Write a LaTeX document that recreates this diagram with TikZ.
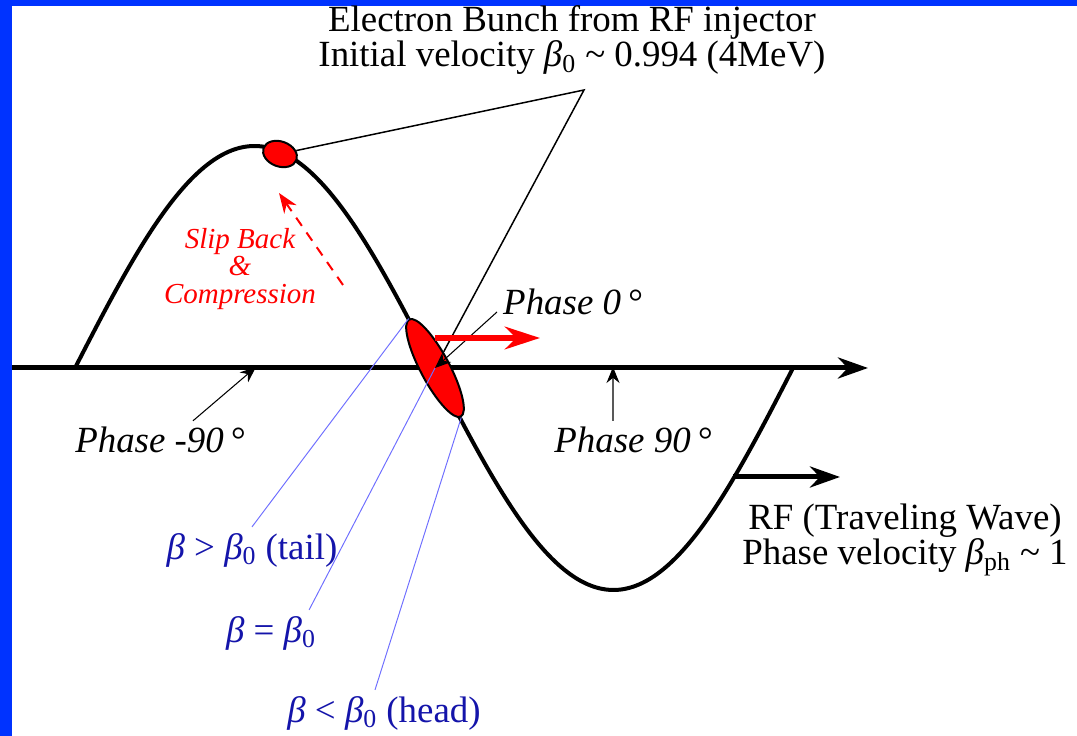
\documentclass[tikz,border=0pt]{standalone}
\usepackage{fontspec}
\setmainfont{Liberation Serif}
\usetikzlibrary{arrows.meta,shapes.geometric}
\definecolor{slideblue}{RGB}{0,51,255}
\definecolor{labelblue}{RGB}{20,20,170}
\definecolor{leaderblue}{RGB}{110,110,255}

\begin{document}
\begin{tikzpicture}[
    x=0.02cm, y=0.02cm,
    font=\fontsize{21}{20}\selectfont,
    wave/.style={line width=0.08cm},
    axisline/.style={line width=0.1cm, -{Stealth[length=0.6cm, width=0.42cm]}},
    pointer/.style={line width=0.6pt, -{Stealth[length=0.32cm, width=0.26cm]}},
    leader/.style={line width=0.85pt},
    blueleader/.style={leaderblue, line width=0.55pt},
    bunchshape/.style={ellipse, draw, fill=red, line width=0.04cm, inner sep=0pt},
    phaselabel/.style={font=\fontsize{21}{20}\selectfont\itshape},
    betalabel/.style={text=labelblue}
]
\useasboundingbox (0,0) rectangle (1077,736);

% === slide frame ===
\fill[slideblue] (0,0) rectangle (12,736);
\fill[slideblue] (0,730) rectangle (1077,736);

% === phase axis and RF wave ===
\draw[axisline] (12,368) -- (868,368);
\draw[wave, domain=0:360, samples=120, smooth]
    plot ({75+\x/360*718}, {368+222*sin(\x)});

% === electron bunches ===
\node[bunchshape, minimum width=0.7cm, minimum height=0.5cm, rotate=-20] (crest) at (280,582) {};
\node[bunchshape, minimum width=2.2cm, minimum height=0.58cm, rotate=-62] (zero) at (435,368) {};

% === injector label ===
\node[align=center] (title) at (572,696)
    {Electron Bunch from RF injector\\Initial velocity {\itshape β}\textsubscript{0} \textasciitilde{} 0.994 (4MeV)};
\coordinate (apex) at (584,646);
\draw[leader] (crest) -- (apex) -- (zero);

% slip back
\node[text=red, font=\fontsize{16.5}{15.5}\selectfont\itshape, align=center] (slip) at (240,467)
    {Slip Back\\\&\\Compression};
\coordinate (slipfrom) at (343,451);
\coordinate (slipto) at (279,543);
\draw[red, line width=0.04cm, dash pattern=on 0.2cm off 0.16cm,
    -{Stealth[length=0.4cm, width=0.3cm]}] (slipfrom) -- (slipto);

% === phase labels ===
\node[phaselabel, anchor=west] (p0) at (497,434) {Phase 0\,°};
\draw[pointer] ([yshift=-0.2cm]p0.west) -- (zero.center);

\coordinate (drift) at (435,398);
\draw[red, line width=0.13cm, -{Stealth[length=0.7cm, width=0.45cm]}] (drift) -- ++(105,0);

\node[phaselabel] (pm90) at (160,296) {Phase -90\,°};
\coordinate (crestphase) at (256,369);
\draw[pointer] ([xshift=0.66cm]pm90.north) -- (crestphase);

\node[phaselabel] (p90) at (633,296) {Phase 90\,°};
\coordinate (troughphase) at (613,369);
\draw[pointer] ([xshift=-0.4cm]p90.north) -- (troughphase);

% === travelling wave ===
\coordinate (wavept) at (733,259);
\draw[line width=0.1cm, -{Stealth[length=0.6cm, width=0.42cm]}] (wavept) -- ++(107,0);
\node[align=center] (rf) at (905,196)
    {RF (Traveling Wave)\\Phase velocity {\itshape β}\textsubscript{ph} \textasciitilde{} 1};

% === velocity labels ===
\node[betalabel] (tail) at (252,186) {{\itshape β} > {\itshape β}\textsubscript{0} (tail)};
\node[betalabel] (sync) at (271,103) {{\itshape β} = {\itshape β}\textsubscript{0}};
\node[betalabel] (head) at (384,23) {{\itshape β} < {\itshape β}\textsubscript{0} (head)};

\draw[blueleader] (tail.north) -- (zero.west);
\draw[blueleader] ([xshift=-0.26cm]sync.north east) -- (zero.center);
\draw[blueleader] ([xshift=-0.18cm]head.north) -- (zero.east);

\end{tikzpicture}
\end{document}
